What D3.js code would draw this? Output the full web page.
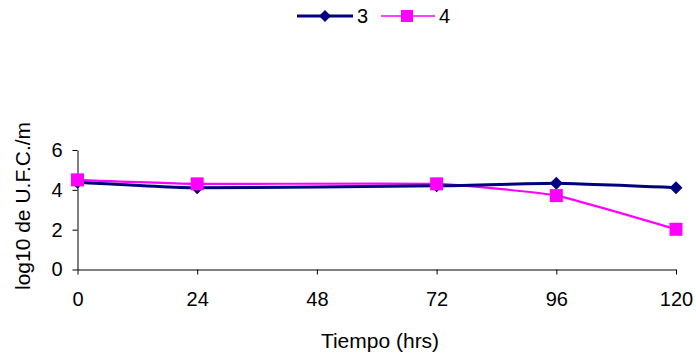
<!DOCTYPE html>
<html>
<head>
<meta charset="utf-8">
<script src="https://cdn.jsdelivr.net/npm/d3@7"></script>
<style>
  html, body { margin: 0; padding: 0; background: #fff; }
  svg { display: block; font-family: "Liberation Sans", Arial, sans-serif; }
</style>
</head>
<body>
<svg id="chart" width="696" height="358"></svg>
<script>
// Sampling times (hours) and log10 counts for each series
const hours = [0, 24, 72, 96, 120];
const serie3 = [4.38, 4.1, 4.2, 4.33, 4.11];
const serie4 = [4.5, 4.3, 4.3, 3.71, 2.02];
const seriesNames = ["3", "4"];
const xTicks = [0, 24, 48, 72, 96, 120];
const yTicks = [0, 2, 4, 6];

const svg = d3.select("#chart");
const x = d3.scaleLinear().domain([0, 120]).range([77.5, 676]);
const y = d3.scaleLinear().domain([0, 6]).range([269.5, 150]);

// Axes
const xAxis = svg.append("g")
  .attr("transform", `translate(0,${y(0)})`)
  .call(d3.axisBottom(x).tickValues(xTicks).tickFormat(d3.format("d"))
    .tickSize(5).tickPadding(17).tickSizeOuter(0));
const yAxis = svg.append("g")
  .attr("transform", `translate(${x(0)},0)`)
  .call(d3.axisLeft(y).tickValues(yTicks).tickFormat(d3.format("d"))
    .tickSize(5).tickPadding(10).tickSizeOuter(0));
[xAxis, yAxis].forEach(g => {
  g.selectAll("path, line").attr("stroke", "#000").attr("stroke-width", 1);
  g.selectAll("text").attr("font-size", 20).attr("fill", "#000")
    .attr("font-family", "'Liberation Sans', Arial, sans-serif");
});

// Axis titles
svg.append("text")
  .attr("x", 380).attr("y", 348)
  .attr("text-anchor", "middle").attr("font-size", 21)
  .text("Tiempo (hrs)");
svg.append("text")
  .attr("transform", "translate(30,206) rotate(-90)")
  .attr("text-anchor", "middle").attr("font-size", 21)
  .text("log10 de U.F.C./m");

// Smoothed lines
const line = d3.line()
  .x((d, i) => x(hours[i]))
  .y(d => y(d))
  .curve(d3.curveCardinal.tension(0.6));

const navy = "#000080", magenta = "#ff00ff";
svg.append("path").datum(serie4)
  .attr("d", line).attr("fill", "none")
  .attr("stroke", magenta).attr("stroke-width", 2.2);
svg.append("path").datum(serie3)
  .attr("d", line).attr("fill", "none")
  .attr("stroke", navy).attr("stroke-width", 3);

const diamond = s => `M0,${-s}L${s},0L0,${s}L${-s},0Z`;

svg.append("g").selectAll("path").data(serie3).join("path")
  .attr("transform", (d, i) => `translate(${x(hours[i])},${y(d)})`)
  .attr("d", diamond(6.5)).attr("fill", navy);
svg.append("g").selectAll("rect").data(serie4).join("rect")
  .attr("x", (d, i) => x(hours[i]) - 6.5)
  .attr("y", d => y(d) - 6.5)
  .attr("width", 13).attr("height", 13).attr("fill", magenta);

// Legend
const legend = svg.append("g");
legend.append("line").attr("x1", 297).attr("x2", 353).attr("y1", 16).attr("y2", 16)
  .attr("stroke", navy).attr("stroke-width", 3);
legend.append("path").attr("transform", "translate(325,16)").attr("d", diamond(6)).attr("fill", navy);
legend.append("text").attr("x", 357).attr("y", 23).attr("font-size", 20).text(seriesNames[0]);
legend.append("line").attr("x1", 381).attr("x2", 435).attr("y1", 16).attr("y2", 16)
  .attr("stroke", magenta).attr("stroke-width", 1.5);
legend.append("rect").attr("x", 401).attr("y", 10).attr("width", 12).attr("height", 12).attr("fill", magenta);
legend.append("text").attr("x", 439).attr("y", 23).attr("font-size", 20).text(seriesNames[1]);
</script>
</body>
</html>
